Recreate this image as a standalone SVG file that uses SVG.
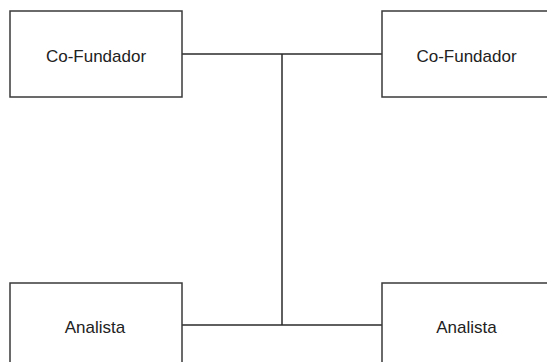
<svg xmlns="http://www.w3.org/2000/svg" width="547" height="362" viewBox="0 0 547 362">
  <style>
    .box { fill: #ffffff; stroke: #3a3a3a; stroke-width: 1.5; }
    .label { font-family: "Liberation Sans", Arial, sans-serif; font-size: 17px; fill: #222222; text-anchor: middle; }
    .wire { fill: none; stroke: #2a2a2a; stroke-width: 1.5; }
  </style>
  <rect width="547" height="362" fill="#ffffff"/>
  <g id="connectors">
    <path class="wire" d="M182,54 H382"/>
    <path class="wire" d="M182,325 H382"/>
    <path class="wire" d="M282,54 V325"/>
  </g>
  <g id="cofundador-1">
    <rect class="box" x="10" y="11" width="172" height="86"/>
    <text class="label" x="96" y="61.5">Co-Fundador</text>
  </g>
  <g id="cofundador-2">
    <rect class="box" x="382" y="11" width="172" height="86"/>
    <text class="label" x="466.5" y="61.5">Co-Fundador</text>
  </g>
  <g id="analista-1">
    <rect class="box" x="10" y="283" width="172" height="86"/>
    <text class="label" x="95" y="332.5">Analista</text>
  </g>
  <g id="analista-2">
    <rect class="box" x="382" y="283" width="172" height="86"/>
    <text class="label" x="466.5" y="332.5">Analista</text>
  </g>
</svg>
